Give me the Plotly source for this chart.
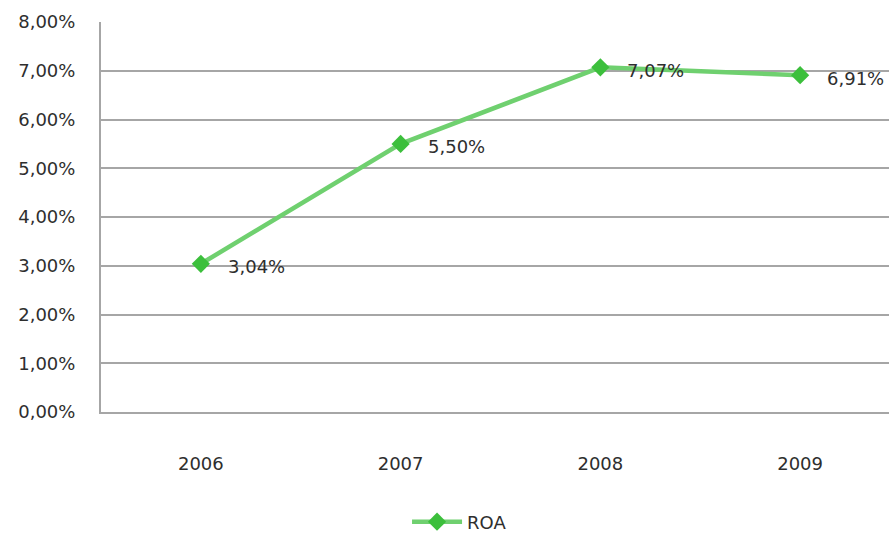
import plotly.graph_objects as go

# ROA by year (in percent)
years = ["2006", "2007", "2008", "2009"]
roa_pct = [3.04, 5.50, 7.07, 6.91]
y_ticks = [0, 1, 2, 3, 4, 5, 6, 7, 8]

line_green = "#6fd06f"
marker_green = "#3cbf3c"
text_color = "#2e2e2e"
grid_color = "#a6a6a6"
font_family = "DejaVu Sans, Verdana, sans-serif"
fsize = 18

roa = [v / 100 for v in roa_pct]

fig = go.Figure()
fig.add_trace(go.Scatter(
    x=years, y=roa, mode="lines+markers", name="ROA",
    line=dict(color=line_green, width=4.5),
    marker=dict(symbol="diamond", size=14, color=marker_green),
))

# value labels to the right of each point (x given as category index)
for i, v in enumerate(roa_pct):
    fig.add_annotation(
        x=i, y=v / 100, xref="x", yref="y",
        text=f"{v:.2f}%".replace(".", ","),
        showarrow=False, xanchor="left", yanchor="middle",
        xshift=25, yshift=-3,
        font=dict(size=fsize, color=text_color, family=font_family),
    )

fig.update_layout(
    width=889, height=533,
    margin=dict(l=101, r=0, t=22, b=121, autoexpand=False),
    paper_bgcolor="white", plot_bgcolor="white",
    separators=",.",
    font=dict(family=font_family, size=fsize, color=text_color),
    showlegend=True,
    legend=dict(orientation="h", x=0.455, xanchor="center", y=-0.282, yanchor="middle",
                itemwidth=50, font=dict(size=fsize, color=text_color)),
    xaxis=dict(
        type="category", range=[-0.5, 3.445],
        showgrid=False, showline=True, linecolor=grid_color, linewidth=2,
        ticks="", ticklabelstandoff=34, automargin=False,
        tickfont=dict(size=fsize, color=text_color),
    ),
    yaxis=dict(
        range=[0, 0.08], tickvals=[t / 100 for t in y_ticks], tickformat=".2%",
        showgrid=True, gridcolor=grid_color, gridwidth=2,
        showline=True, linecolor=grid_color, linewidth=2,
        zeroline=False, ticks="", ticklabelstandoff=20, automargin=False,
        tickfont=dict(size=fsize, color=text_color),
    ),
)

fig.write_html("out.html")
